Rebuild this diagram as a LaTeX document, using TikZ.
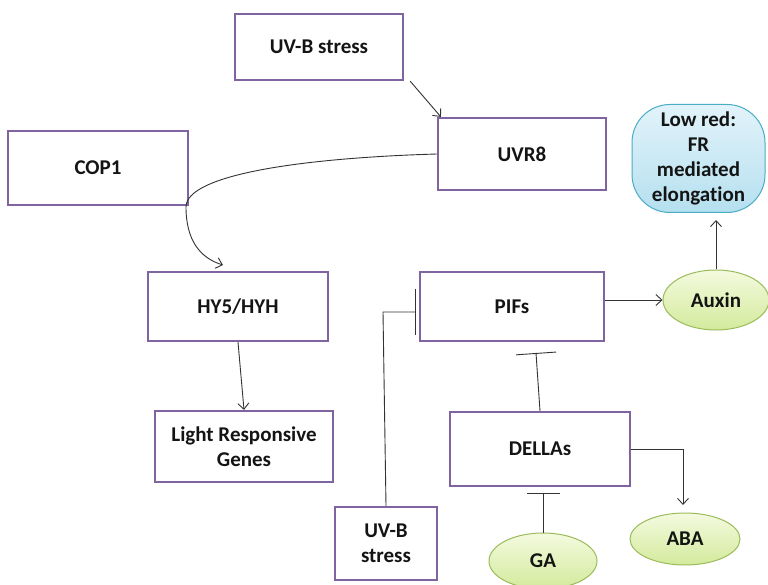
\documentclass[tikz,border=0pt]{standalone}
\usepackage{fontspec}
\setmainfont{Carlito}[Ligatures={NoCommon}]
\usetikzlibrary{arrows.meta,shapes.geometric}
\definecolor{boxpurple}{HTML}{8064A2}
\definecolor{greenedge}{HTML}{9BBB59}
\definecolor{greentop}{HTML}{F4FADF}
\definecolor{greenbot}{HTML}{D3EA9C}
\definecolor{blueedge}{HTML}{4BACC6}
\definecolor{bluetop}{HTML}{E2F3FA}
\definecolor{bluebot}{HTML}{B5E0EF}
\definecolor{txt}{HTML}{141414}
\begin{document}
\begin{tikzpicture}[x=1pt,y=-1pt,
  lbl/.style={font=\bfseries\fontsize{21}{25}\selectfont, text=txt, align=center, inner sep=0pt},
  pbox/.style={lbl, draw=boxpurple, line width=2.2pt, fill=white},
  gell/.style={lbl, ellipse, draw=greenedge, line width=1pt, top color=greentop, bottom color=greenbot},
  conn/.style={draw=black!80, line width=0.9pt},
  arr/.style={conn, -{Straight Barb[length=6pt,width=11pt]}},
  inh/.style={conn, -{Bar[width=#1]}}
]
\useasboundingbox (0,0) rectangle (768,585);
\fill[white] (0,0) rectangle (768,585);

\node[pbox, minimum width=168pt, minimum height=66pt] (uvbtop) at (319,47) {UV-B stress};
\node[pbox, minimum width=168pt, minimum height=72pt] (uvr8) at (522,154) {UVR8};
\node[pbox, minimum width=180pt, minimum height=74pt] (cop1) at (98,168) {COP1};
\node[pbox, minimum width=180pt, minimum height=69pt] (hy5) at (238,306.5) {HY5/HYH};
\node[pbox, minimum width=184pt, minimum height=69pt] (pifs) at (512,306.5) {PIFs};
\node[pbox, minimum width=178pt, minimum height=71pt] (lrg) at (244,446.5) {Light Responsive\\Genes};
\node[pbox, minimum width=180pt, minimum height=74pt] (dellas) at (540,449) {DELLAs};
\node[pbox, minimum width=102pt, minimum height=73pt] (uvbbot) at (386,543.5) {UV-B\\stress};

\node[lbl, draw=blueedge, line width=1pt, top color=bluetop, bottom color=bluebot,
      rounded corners=38pt, minimum width=133pt, minimum height=108pt] (lowred) at (698.5,158.5)
      {Low red:\\FR\\mediated\\elongation};
\node[gell, minimum width=106pt, minimum height=60pt] (auxin) at (716,300) {Auxin};
\node[gell, minimum width=108pt, minimum height=56pt] (ga) at (543,561) {GA};
\node[gell, minimum width=110pt, minimum height=52pt] (aba) at (685,539) {ABA};

\coordinate (hy5in) at (223,265);
\coordinate (pifsinh) at (536,353);
\coordinate (dellasinh) at (543,493);
\coordinate (abain) at (683,505);
\coordinate (pifsbar) at (416,312);
\coordinate (uvbturn) at (383,312);

\draw[arr] ([xshift=6pt]uvbtop.south east) -- ([xshift=4pt]uvr8.north west);
\draw[arr] (uvr8.west) .. controls (300,158) and (186,175) .. (186,207)
           .. controls (186,240) and (200,258) .. (hy5in);
\draw[arr] (hy5.south) -- (lrg.north);
\draw[arr] (pifs.east |- auxin) -- (auxin.west);
\draw[arr, shorten >=7pt] (auxin.north) -- (auxin.north |- lowred.south);
\draw[inh=40pt] (dellas.north) -- (pifsinh);
\draw[inh=33pt] (ga.north) -- (dellasinh);
\draw[arr] (dellas.east) -| (abain);
\draw[inh=46pt] (uvbbot.north) -- (uvbturn) -- (pifsbar);
\end{tikzpicture}
\end{document}
